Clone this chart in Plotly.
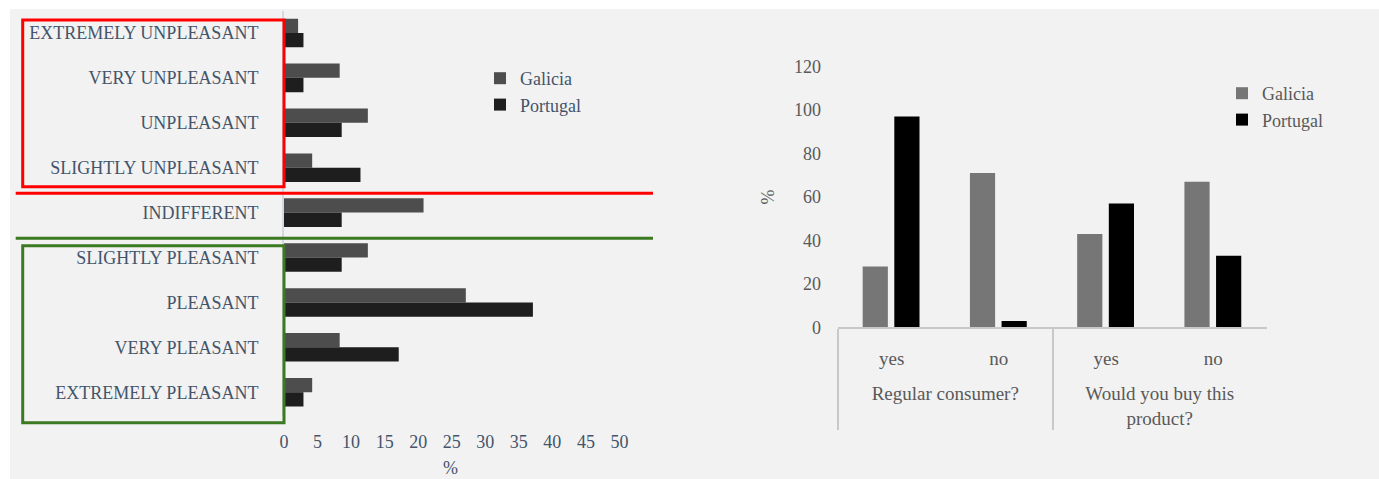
import plotly.graph_objects as go

W, H = 1379, 479

# ---------------- data ----------------
hedonic_labels = ["EXTREMELY UNPLEASANT", "VERY UNPLEASANT", "UNPLEASANT",
                  "SLIGHTLY UNPLEASANT", "INDIFFERENT", "SLIGHTLY PLEASANT",
                  "PLEASANT", "VERY PLEASANT", "EXTREMELY PLEASANT"]
galicia_hedonic = [2.1, 8.3, 12.5, 4.2, 20.8, 12.5, 27.1, 8.3, 4.2]
portugal_hedonic = [2.9, 2.9, 8.6, 11.4, 8.6, 8.6, 37.1, 17.1, 2.9]

question_groups = ["<br>Regular consumer?", "<br>Regular consumer?",
                   "<br>Would you buy this<br>product?", "<br>Would you buy this<br>product?"]
answers = ["yes", "no", "yes", "no"]
galicia_questions = [28, 71, 43, 67]
portugal_questions = [97, 3, 57, 33]

left_ticks = [0, 5, 10, 15, 20, 25, 30, 35, 40, 45, 50]
right_ticks = [0, 20, 40, 60, 80, 100, 120]

# ---------------- helpers (pixel -> paper) ----------------
def px(x):
    return x / W

def py(y):
    return 1 - y / H

FONT = "Liberation Serif"
LEFT_TXT = "#44546a"
RIGHT_TXT = "#595959"

fig = go.Figure()

# Left chart: horizontal bars
fig.add_trace(go.Bar(
    x=galicia_hedonic, y=hedonic_labels, orientation="h", name="Galicia",
    marker=dict(color="#4d4d4d", line=dict(width=0)),
    width=0.318, offset=-0.318, xaxis="x", yaxis="y",
    legend="legend", legendgroup="g1"))
fig.add_trace(go.Bar(
    x=portugal_hedonic, y=hedonic_labels, orientation="h", name="Portugal",
    marker=dict(color="#1e1e1e", line=dict(width=0)),
    width=0.318, offset=0.0, xaxis="x", yaxis="y",
    legend="legend", legendgroup="p1"))

# Right chart: vertical bars on multicategory axis
fig.add_trace(go.Bar(
    x=[question_groups, answers], y=galicia_questions, name="Galicia",
    marker=dict(color="#767676", line=dict(width=0)),
    width=0.235, offset=-0.27, xaxis="x2", yaxis="y2",
    legend="legend2", legendgroup="g2"))
fig.add_trace(go.Bar(
    x=[question_groups, answers], y=portugal_questions, name="Portugal",
    marker=dict(color="#000000", line=dict(width=0)),
    width=0.235, offset=0.025, xaxis="x2", yaxis="y2",
    legend="legend2", legendgroup="p2"))

shapes = [
    # background panel
    dict(type="rect", xref="paper", yref="paper", x0=px(10), x1=1, y0=0, y1=py(9),
         fillcolor="#f2f2f2", line=dict(width=0), layer="below"),
    # red box & line
    dict(type="rect", xref="paper", yref="paper", x0=px(22.7), x1=px(284), y0=py(186.7), y1=py(20),
         line=dict(color="#ff0000", width=3)),
    dict(type="line", xref="paper", yref="paper", x0=px(15.7), x1=px(653), y0=py(193.3), y1=py(193.3),
         line=dict(color="#ff0000", width=3)),
    # green line & box
    dict(type="line", xref="paper", yref="paper", x0=px(15.7), x1=px(653), y0=py(238.3), y1=py(238.3),
         line=dict(color="#3b7a22", width=3)),
    dict(type="rect", xref="paper", yref="paper", x0=px(22.7), x1=px(284), y0=py(422.7), y1=py(245.7),
         line=dict(color="#3b7a22", width=3)),
]

fig.update_layout(
    width=W, height=H,
    margin=dict(l=0, r=0, t=0, b=0),
    paper_bgcolor="white", plot_bgcolor="rgba(0,0,0,0)",
    font=dict(family=FONT, size=18, color=LEFT_TXT),
    barmode="group",
    shapes=shapes,
    xaxis=dict(domain=[px(284), px(653)], range=[0, 55], tickvals=left_ticks,
               showgrid=False, zeroline=False, showline=False, ticks="",
               ticklabelstandoff=14, tickfont=dict(size=18, color=LEFT_TXT),
               anchor="y", automargin=False, fixedrange=True),
    yaxis=dict(domain=[py(414.7), py(10.5)], type="category", autorange="reversed",
               showgrid=False, zeroline=False, showline=True, linecolor="#d3d9e3", linewidth=2,
               ticks="", ticklabelstandoff=20, tickfont=dict(size=18, color=LEFT_TXT),
               anchor="x", automargin=False),
    xaxis2=dict(domain=[px(838), px(1267)], type="multicategory",
                showgrid=False, zeroline=False, showline=True, linecolor="#c8c8c8", linewidth=2,
                showdividers=True, dividercolor="#c8c8c8", dividerwidth=2,
                ticks="", ticklabelstandoff=13, tickfont=dict(size=19, color=RIGHT_TXT),
                anchor="y2", automargin=False),
    yaxis2=dict(domain=[py(327.4), py(327.4 - 120 * 2.174)], range=[0, 120], tickvals=right_ticks,
                showgrid=False, zeroline=False, showline=False, ticks="",
                ticklabelstandoff=16, tickfont=dict(size=18, color=RIGHT_TXT),
                title=dict(text="%", font=dict(size=18, color=RIGHT_TXT), standoff=14),
                anchor="x2", automargin=False),
    legend=dict(x=px(480), y=py(60), xanchor="left", yanchor="top",
                bgcolor="rgba(0,0,0,0)", font=dict(size=18, color=LEFT_TXT),
                tracegroupgap=7, traceorder="normal"),
    legend2=dict(x=px(1222), y=py(75), xanchor="left", yanchor="top",
                 bgcolor="rgba(0,0,0,0)", font=dict(size=18, color=RIGHT_TXT),
                 tracegroupgap=0, traceorder="normal"),
    annotations=[dict(text="%", xref="paper", yref="paper", x=px(450), y=py(468),
                      showarrow=False, font=dict(size=18, color=LEFT_TXT),
                      xanchor="center", yanchor="middle")],
)

fig.write_html("out.html")
